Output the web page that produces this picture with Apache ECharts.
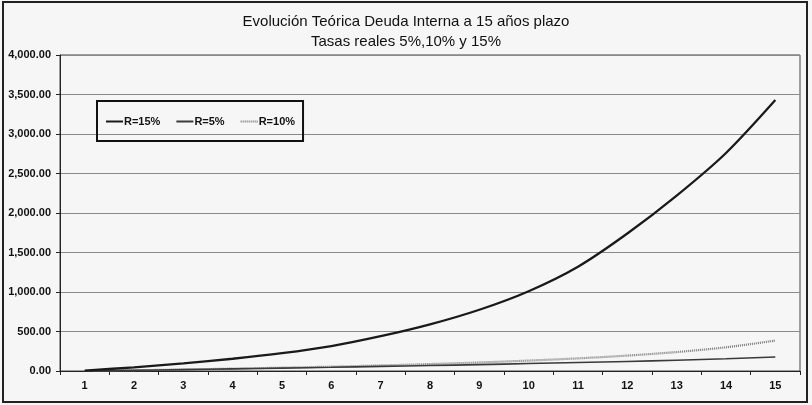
<!DOCTYPE html>
<html>
<head>
<meta charset="utf-8">
<script src="https://cdn.jsdelivr.net/npm/echarts@6/dist/echarts.min.js"></script>
<style>
  html, body { margin: 0; padding: 0; background: #f6f6f6; }
  #chart { width: 812px; height: 405px; }
</style>
</head>
<body>
<div id="chart"></div>
<script>
// Años del plazo (eje de categorías)
const years = ['1', '2', '3', '4', '5', '6', '7', '8', '9', '10', '11', '12', '13', '14', '15'];
// Evolución de la deuda interna según tasa real
const r15 = [5, 47, 97, 155, 225, 315, 440, 590, 775, 1010, 1320, 1740, 2220, 2760, 3430];
const r5  = [0, 9, 18, 27, 37, 47, 58, 69, 81, 94, 107, 121, 137, 155, 178];
const r10 = [0, 9, 19, 30, 42, 55, 70, 88, 108, 132, 160, 195, 240, 300, 385];

const FONT = '"Liberation Sans", Arial, sans-serif';

const chart = echarts.init(document.getElementById('chart'), null, { renderer: 'canvas' });

chart.setOption({
  backgroundColor: '#f6f6f6',
  animation: false,
  textStyle: { fontFamily: FONT },
  graphic: [{
    type: 'rect',
    shape: { x: 3, y: 2, width: 804, height: 400 },
    style: { fill: 'none', stroke: '#222', lineWidth: 2 },
    silent: true
  }],
  title: {
    text: 'Evolución Teórica Deuda Interna a 15 años plazo',
    subtext: 'Tasas reales 5%,10% y 15%',
    left: 'center',
    top: 9,
    itemGap: 5,
    textStyle: { fontFamily: FONT, fontSize: 15, fontWeight: 'normal', color: '#111' },
    subtextStyle: { fontFamily: FONT, fontSize: 15, color: '#111' }
  },
  legend: {
    left: 97,
    top: 101,
    orient: 'horizontal',
    backgroundColor: 'transparent',
    borderColor: '#111',
    borderWidth: 2,
    borderRadius: 0,
    padding: [15, 8, 14, 8],
    itemGap: 15,
    itemWidth: 17,
    itemHeight: 12,
    itemStyle: { opacity: 0 },
    textStyle: { fontFamily: FONT, fontSize: 11, fontWeight: 'bold', color: '#111', padding: [0, 0, 0, -4] },
    data: ['R=15%', 'R=5%', 'R=10%']
  },
  grid: {
    left: 60,
    right: 12,
    top: 55,
    bottom: 34,
    show: true,
    borderColor: '#444',
    borderWidth: 1
  },
  xAxis: {
    type: 'category',
    data: years,
    boundaryGap: true,
    axisLine: { lineStyle: { color: '#222', width: 1 } },
    axisTick: { show: true, length: 4, lineStyle: { color: '#222' } },
    axisLabel: { interval: 0, margin: 9, fontFamily: FONT, fontSize: 11, fontWeight: 'bold', color: '#111' },
    splitLine: { show: false }
  },
  yAxis: {
    type: 'value',
    min: 0,
    max: 4000,
    interval: 500,
    axisLine: { show: true, lineStyle: { color: '#222', width: 1 } },
    axisTick: { show: true, length: 4, lineStyle: { color: '#222' } },
    axisLabel: {
      margin: 9,
      fontFamily: FONT,
      fontSize: 11,
      fontWeight: 'bold',
      color: '#111',
      formatter: v => v.toLocaleString('en-US', { minimumFractionDigits: 2, maximumFractionDigits: 2 })
    },
    splitLine: { show: true, lineStyle: { color: '#8a8a8a', width: 1 } }
  },
  series: [
    {
      name: 'R=15%',
      type: 'line',
      data: r15,
      smooth: 0.3,
      symbol: 'none',
      lineStyle: { color: '#1a1a1a', width: 2.3 },
      itemStyle: { color: '#1a1a1a' },
      z: 5
    },
    {
      name: 'R=5%',
      type: 'line',
      data: r5,
      smooth: 0.3,
      symbol: 'none',
      lineStyle: { color: '#3a3a3a', width: 1.6 },
      itemStyle: { color: '#3a3a3a' },
      z: 4
    },
    {
      name: 'R=10%',
      type: 'line',
      data: r10,
      smooth: 0.3,
      symbol: 'none',
      lineStyle: { color: '#7a7a7a', width: 2.2, type: [1, 1] },
      itemStyle: { color: '#7a7a7a' },
      z: 3
    }
  ]
});
</script>
</body>
</html>
